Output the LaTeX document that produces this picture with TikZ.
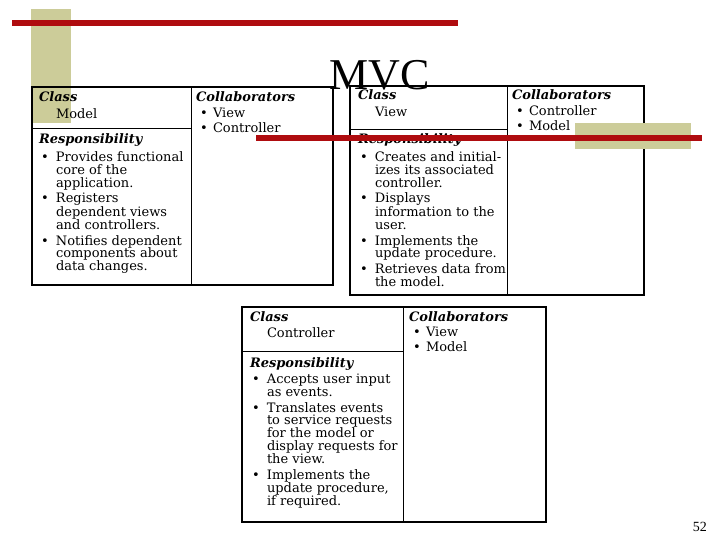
\documentclass[tikz,border=0pt]{standalone}
\usepackage{fontspec}
\setmainfont{DejaVu Serif}
\newfontfamily\titlefont{Liberation Serif}
\definecolor{khaki}{RGB}{204,204,153}
\definecolor{barred}{RGB}{175,12,15}
\newcommand{\cardfont}{\fontsize{13}{12.7}\selectfont}
\newcommand{\bi}{\hspace*{2pt}\makebox[15pt][l]{•}}
\newcommand{\ci}{\hspace*{17pt}}
\newcommand{\cb}{\hspace*{4pt}\makebox[13pt][l]{•}}
\newcommand{\hd}[1]{{\bfseries\itshape #1}}
\newcommand{\cardtext}[1]{\parbox[t]{170pt}{\cardfont\raggedright #1}}
\newcommand{\cardframe}[6]{%
  \draw[thinline] (#1,#2) rectangle (#3,#4);
  \draw[shadowline] (#3,#2) -- (#3,#4) -- (#1,#4);
  \draw[divline] (#5,#2) -- (#5,#4);
  \draw[divline] (#1,#6) -- (#5,#6);
}
\begin{document}
\begin{tikzpicture}[x=1pt,y=-1pt,
  txt/.style={anchor=base west, inner sep=0pt, outer sep=0pt},
  thinline/.style={line width=1.1pt, black},
  shadowline/.style={line width=2.4pt, black},
  divline/.style={line width=0.9pt, black}]
\useasboundingbox (0,0) rectangle (720,540);
\fill[white] (0,0) rectangle (720,540);
% left decoration
\fill[khaki] (31,9) rectangle (71,123);
\fill[barred] (12,20) rectangle (458,26);

% Model card
\cardframe{32}{87}{333}{285}{191}{128}
\node[txt] (mclass) at (39,102) {\cardtext{\hd{Class}\\[3.5pt]\hspace*{17pt}Model}};
\node[txt] (mcollab) at (196,102) {\cardtext{\hd{Collaborators}\\[2.5pt]\cb View\\[2.5pt]\cb Controller}};
\node[txt] (mresp) at (39,144) {\cardtext{\hd{Responsibility}\\[4pt]
  \bi Provides functional\\ \ci core of the\\ \ci application.\\[3pt]
  \bi Registers\\ \ci dependent views\\ \ci and controllers.\\[3pt]
  \bi Notifies dependent\\ \ci components about\\ \ci data changes.}};

% View card
\cardframe{350}{86}{644}{295}{507}{129}
\node[txt] (vclass) at (358,100) {\cardtext{\hd{Class}\\[3.5pt]\hspace*{17pt}View}};
\node[txt] (vcollab) at (512,100) {\cardtext{\hd{Collaborators}\\[2.5pt]\cb Controller\\[2.5pt]\cb Model}};
\node[txt] (vresp) at (358,144) {\cardtext{\hd{Responsibility}\\[4pt]
  \bi Creates and initial-\\ \ci izes its associated\\ \ci controller.\\[3pt]
  \bi Displays\\ \ci information to the\\ \ci user.\\[3pt]
  \bi Implements the\\ \ci update procedure.\\[3pt]
  \bi Retrieves data from\\ \ci the model.}};

% Controller card
\cardframe{242}{307}{546}{522}{403}{351}
\node[txt] (cclass) at (250,321) {\cardtext{\hd{Class}\\[3.5pt]\hspace*{17pt}Controller}};
\node[txt] (ccollab) at (409,321) {\cardtext{\hd{Collaborators}\\[2.5pt]\cb View\\[2.5pt]\cb Model}};
\node[txt] (cresp) at (250,367) {\cardtext{\hd{Responsibility}\\[4pt]
  \bi Accepts user input\\ \ci as events.\\[3pt]
  \bi Translates events\\ \ci to service requests\\ \ci for the model or\\ \ci display requests for\\ \ci the view.\\[3pt]
  \bi Implements the\\ \ci update procedure,\\ \ci if required.}};

% right decoration (over the card)
\fill[khaki] (575,123) rectangle (691,149);
\fill[barred] (256,135) rectangle (702,141);

% title and page number
\node[anchor=base, inner sep=0pt] (title) at (380,90) {\titlefont\fontsize{44}{48}\selectfont MVC};
\node[anchor=base east, inner sep=0pt] (pagenum) at (707,531) {\titlefont\fontsize{14}{16}\selectfont 52};
\end{tikzpicture}
\end{document}
